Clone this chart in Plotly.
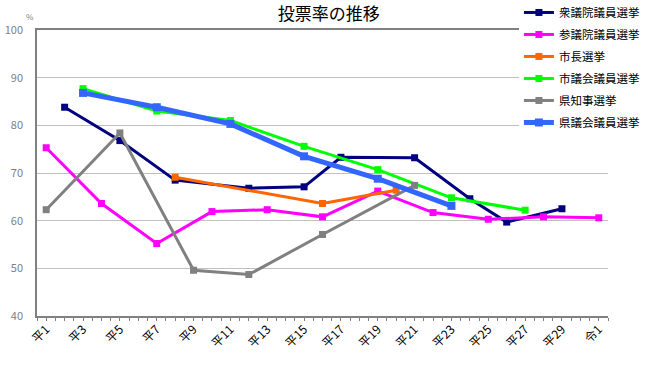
import plotly.graph_objects as go

year_labels = ["平1", "平3", "平5", "平7", "平9", "平11", "平13", "平15", "平17",
               "平19", "平21", "平23", "平25", "平27", "平29", "令1"]
label_years = [1, 3, 5, 7, 9, 11, 13, 15, 17, 19, 21, 23, 25, 27, 29, 31]

shu_years = [2, 5, 8, 12, 15, 17, 21, 24, 26, 29]
shu_vals = [83.8, 76.8, 68.5, 66.8, 67.1, 73.3, 73.2, 64.6, 59.7, 62.5]

san_years = [1, 4, 7, 10, 13, 16, 19, 22, 25, 28, 31]
san_vals = [75.3, 63.6, 55.2, 61.9, 62.3, 60.8, 66.2, 61.7, 60.3, 60.8, 60.6]

mayor_years = [8, 16, 20]
mayor_vals = [69.1, 63.6, 66.4]

city_years = [3, 7, 11, 15, 19, 23, 27]
city_vals = [87.7, 83.0, 81.0, 75.6, 70.7, 64.8, 62.2]

gov_years = [1, 5, 9, 12, 16, 21]
gov_vals = [62.3, 78.4, 49.6, 48.7, 57.1, 67.4]

pref_years = [3, 7, 11, 15, 19, 23]
pref_vals = [86.8, 83.8, 80.3, 73.5, 68.8, 63.1]

series = [
    ("衆議院議員選挙", shu_years, shu_vals, "#000080", 3, 7),
    ("参議院議員選挙", san_years, san_vals, "#FF00FF", 3, 7),
    ("市長選挙", mayor_years, mayor_vals, "#FF6600", 3, 7),
    ("市議会議員選挙", city_years, city_vals, "#00FF00", 3, 7),
    ("県知事選挙", gov_years, gov_vals, "#808080", 3, 7),
    ("県議会議員選挙", pref_years, pref_vals, "#3366FF", 5, 8),
]

FONT = "Noto Sans CJK JP"

fig = go.Figure()
for i, (name, xs, ys, color, lw, ms) in enumerate(series):
    fig.add_trace(go.Scatter(
        x=xs, y=ys, name=name, mode="lines+markers", legendgroup=f"g{i}",
        line=dict(color=color, width=lw),
        marker=dict(symbol="square", size=ms, color=color),
    ))

fig.update_layout(
    width=651, height=380,
    margin=dict(l=37, r=43, t=30, b=64, autoexpand=False),
    paper_bgcolor="white", plot_bgcolor="white",
    font=dict(family=FONT, size=12, color="black"),
    title=dict(text="投票率の推移", xref="container", x=0.505, xanchor="center",
               yref="container", y=0.962, yanchor="middle",
               font=dict(family=FONT, size=17, color="black")),
    showlegend=True,
    legend=dict(x=0.844, xanchor="left", y=1.112, yanchor="top",
                bgcolor="white", font=dict(family=FONT, size=11.5, color="black"),
                tracegroupgap=3, itemwidth=30),
    xaxis=dict(range=[0.5, 31.5], tickmode="array", tickvals=label_years,
               ticktext=year_labels, tickangle=-45, showgrid=False, automargin=False,
               showline=True, linecolor="#808080", linewidth=1.5, mirror=True,
               ticks="", tickfont=dict(size=12, color="black"),
               minor=dict(tick0=0.5, dtick=0.5, ticks="outside", ticklen=3,
                          tickcolor="#808080", showgrid=False),
               zeroline=False, fixedrange=True),
    yaxis=dict(range=[40, 100], dtick=10, showgrid=True, gridcolor="#C0C0C0",
               gridwidth=1, showline=True, linecolor="#808080", linewidth=1.5,
               ticks="", tickfont=dict(size=11, color="#808080"), automargin=False,
               ticklabelstandoff=10,
               zeroline=False, fixedrange=True),
    annotations=[dict(text="%", xref="paper", yref="paper", x=-0.012, y=1.02,
                      xanchor="center", yanchor="bottom", showarrow=False,
                      font=dict(family=FONT, size=8, color="#808080"))],
)

fig.write_html("out.html", config={"displayModeBar": False},
               post_script="document.body.style.margin='0';document.body.style.padding='0';")
